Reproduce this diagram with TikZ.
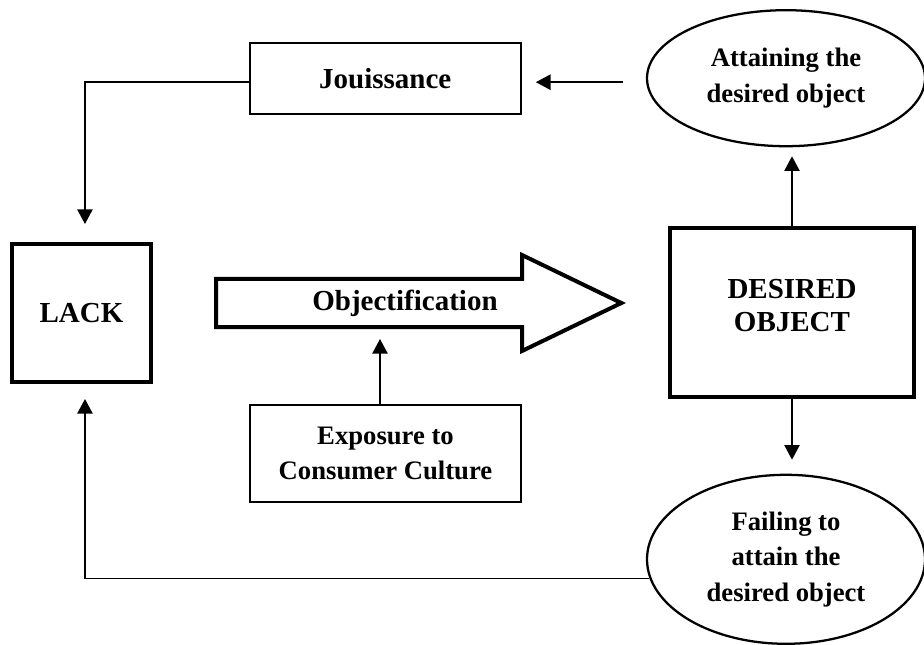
\documentclass[tikz,border=0pt]{standalone}
\usepackage{fontspec}
\setmainfont{Liberation Serif}
\usetikzlibrary{shapes.geometric,arrows.meta,positioning}

\tikzset{
  conn/.style={-{Triangle[length=11pt,width=11.5pt]}, line width=1.2pt},
  bigtxt/.style={font=\fontsize{21.75}{24.75}\selectfont\bfseries},
  smalltxt/.style={font=\fontsize{20}{26.5}\selectfont\bfseries},
  thinbox/.style={draw, line width=1.7pt, align=center, smalltxt},
  thickbox/.style={draw, line width=3pt, align=center, bigtxt},
  oval/.style={draw, ellipse, line width=1.7pt, align=center, smalltxt, minimum width=208.5pt, inner sep=0pt}
}

\begin{document}
\begin{tikzpicture}[font=\bfseries]
  \useasboundingbox (0,0) rectangle (693pt,-483.75pt);
  \node[thickbox,minimum width=104.25pt,minimum height=103.5pt] (lack) at (61.125pt,-234.75pt) {LACK};
  \node[thickbox,minimum width=183pt,minimum height=126.75pt,text depth=10pt] (desired) at (594pt,-234.375pt) {DESIRED\\OBJECT};
  \node[oval,minimum height=102pt,above=59pt of desired,xshift=-4.5pt] (attain) {Attaining the\\desired object};
  \node[oval,minimum height=126.75pt,below=56pt of desired,xshift=-4.5pt] (fail) {Failing to\\attain the\\desired object};
  \node[thinbox,bigtxt,minimum width=203.25pt,minimum height=53.25pt,left=93pt of attain] (jouis) {Jouissance};
  \node[thinbox,minimum width=203.25pt,minimum height=72.75pt] (expo) at (289.125pt,-340.125pt) {Exposure to\\Consumer Culture};
  % big arrow
  \draw[line width=3pt] (162pt,-209.25pt) -- (391.5pt,-209.25pt) -- (391.5pt,-191.25pt)
    -- (466pt,-227.25pt) -- (391.5pt,-263.25pt) -- (391.5pt,-245.25pt) -- (162pt,-245.25pt) -- cycle;
  \node[bigtxt] (obj) at (303.75pt,-227.25pt) {Objectification};
  \coordinate (tap) at (285pt,-245.25pt);
  % connectors
  \draw[conn,shorten <=17pt,shorten >=10.5pt] ([yshift=-3pt]attain.west) -- ([yshift=-3pt]jouis.east);
  \draw[conn,shorten >=13.5pt] ([yshift=-3pt]jouis.west) -| ([xshift=2.6pt]lack.north);
  \draw[conn,shorten >=9pt] (expo.north -| tap) -- (tap);
  \draw[conn,shorten >=6.75pt] (desired.north) -- (desired.north |- attain.south);
  \draw[conn,shorten >=10.5pt] (desired.south) -- (desired.south |- fail.north);
  \draw[conn,shorten >=11.25pt] (fail.188) -| ([xshift=2.6pt]lack.south);
\end{tikzpicture}
\end{document}
